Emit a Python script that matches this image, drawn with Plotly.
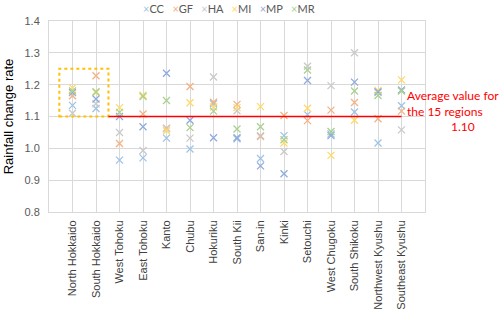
import plotly.graph_objects as go

regions = ["North Hokkaido", "South Hokkaido", "West Tohoku", "East Tohoku", "Kanto",
           "Chubu", "Hokuriku", "South Kii", "San-in", "Kinki", "Setouchi",
           "West Chugoku", "South Shikoku", "Northwest Kyushu", "Southeast Kyushu"]
x_pos = list(range(1, 16))

CC = [1.135, 1.125, 0.963, 0.970, 1.032, 0.998, 1.140, 1.030, 0.968, 1.040, 1.106, 1.045, 1.114, 1.017, 1.134]
GF = [1.165, 1.228, 1.015, 1.108, 1.063, 1.194, 1.145, 1.138, 1.037, 1.103, 1.087, 1.120, 1.144, 1.093, 1.117]
HA = [1.110, 1.140, 1.050, 0.993, 1.062, 1.032, 1.224, 1.118, 1.040, 0.990, 1.258, 1.197, 1.300, 1.175, 1.058]
MI = [1.190, 1.175, 1.128, 1.167, 1.055, 1.143, 1.130, 1.128, 1.131, 1.017, 1.126, 0.978, 1.088, 1.182, 1.215]
MP = [1.175, 1.155, 1.100, 1.068, 1.236, 1.088, 1.033, 1.033, 0.945, 0.920, 1.213, 1.040, 1.208, 1.178, 1.183]
MR = [1.180, 1.178, 1.113, 1.163, 1.150, 1.065, 1.117, 1.061, 1.068, 1.027, 1.246, 1.053, 1.180, 1.166, 1.180]

series_names = ["CC", "GF", "HA", "MI", "MP", "MR"]
series_vals = [CC, GF, HA, MI, MP, MR]
colors = ["#9DC3E6", "#F4B183", "#C9C9C9", "#FFD966", "#8FAADC", "#A9D18E"]

avg_value = 1.10
box_x = [0.44, 2.53]
box_y = [1.10, 1.25]
avg_line_x = [2.53, 15]

fig = go.Figure()
for name, vals, col in zip(series_names, series_vals, colors):
    fig.add_trace(go.Scatter(
        x=x_pos, y=vals, mode="markers", name=name, showlegend=False,
        marker=dict(symbol="x-thin", size=7, line=dict(width=1.3, color=col), color=col),
    ))

# legend built from series names
sp = "\u00a0\u00a0\u00a0"
legend_text = sp.join(
    f"<span style='color:{col}'>×</span><span style='color:#595959'>{name}</span>"
    for name, col in zip(series_names, colors))
fig.add_annotation(xref="paper", yref="paper", x=0.48, y=1.068,
                   xanchor="center", yanchor="middle", showarrow=False,
                   text=legend_text, font=dict(size=11, family="Lato, Liberation Sans, Arial"))

fig.add_shape(type="rect", xref="x", yref="y", x0=box_x[0], x1=box_x[1], y0=box_y[0], y1=box_y[1],
              line=dict(color="#FFC000", width=2, dash="dot"))
fig.add_shape(type="line", xref="x", yref="y", x0=avg_line_x[0], x1=avg_line_x[1], y0=avg_value, y1=avg_value,
              line=dict(color="#FF0000", width=1.5))

fig.add_annotation(xref="paper", yref="y", x=0.948, y=1.197, xanchor="left", yanchor="top",
                   showarrow=False, align="left",
                   text="Average value for<br>the 15 regions",
                   font=dict(color="#FF0000", size=12, family="Lato, Liberation Sans, Arial"))
fig.add_annotation(xref="paper", yref="y", x=1.101, y=1.069, xanchor="center", yanchor="middle",
                   showarrow=False, text=f"{avg_value:.2f}",
                   font=dict(color="#FF0000", size=12, family="Lato, Liberation Sans, Arial"))

fig.update_xaxes(range=[0, 16], tickmode="array", tickvals=x_pos, ticktext=regions,
                 tickangle=-90, showgrid=True, gridcolor="#D9D9D9", gridwidth=1,
                 showline=True, linecolor="#D9D9D9", mirror=True, ticks="", zeroline=False,
                 automargin=False, ticklabelstandoff=3,
                 tickfont=dict(size=11, color="#404040", family="Liberation Sans, Arial"))
fig.update_yaxes(range=[0.8, 1.4], dtick=0.1, tick0=0.8, tickformat=".1f",
                 showgrid=True, gridcolor="#D9D9D9", gridwidth=1, zeroline=False,
                 showline=True, linecolor="#D9D9D9", mirror=True, ticks="",
                 ticklabelstandoff=6, automargin=False,
                 tickfont=dict(size=11, color="#595959", family="Liberation Sans, Arial"),
                 title=dict(text="Rainfall change rate", standoff=7,
                            font=dict(size=13, color="#000000", family="Liberation Sans, Arial")))

fig.update_layout(width=500, height=311, autosize=False,
                  margin=dict(l=49, r=75, t=21, b=99),
                  plot_bgcolor="white", paper_bgcolor="white")
fig.write_html("out.html", config={"displayModeBar": False},
               post_script="document.body.style.margin='0';document.body.style.overflow='hidden';")
